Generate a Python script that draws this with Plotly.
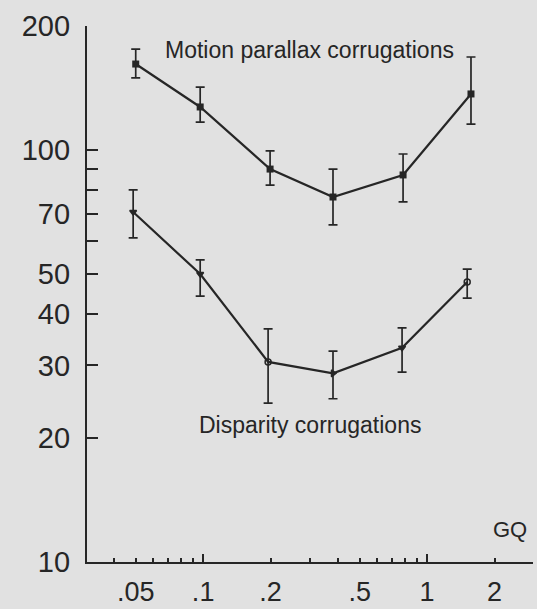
import plotly.graph_objects as go
import numpy as np

# Spatial frequency (GQ) of the corrugations
motion_x = [0.050, 0.097, 0.199, 0.380, 0.781, 1.57]
disp_x = [0.0487, 0.097, 0.195, 0.380, 0.773, 1.51]

# Thresholds (mean, upper and lower end of the error bar)
motion_y = [161.7, 127.2, 89.9, 76.9, 87.0, 136.8]
motion_hi = [175.8, 142.2, 99.5, 89.9, 97.8, 168.2]
motion_lo = [149.6, 116.9, 82.2, 65.8, 74.8, 115.6]

disp_y = [70.7, 50.0, 30.6, 28.7, 33.1, 47.8]
disp_hi = [80.0, 54.1, 36.8, 32.5, 37.0, 51.4]
disp_lo = [61.2, 44.2, 24.3, 24.9, 28.9, 43.7]

# Axis ticks
x_tick_vals = [0.05, 0.1, 0.2, 0.5, 1, 2]
x_tick_text = [".05", ".1", ".2", ".5", "1", "2"]
x_minor_vals = [0.04, 0.06, 0.07, 0.08, 0.09, 0.3, 0.4, 0.6, 0.7, 0.8, 0.9]
x_long_vals = [0.1, 1]
y_tick_vals = [10, 20, 30, 40, 50, 60, 70, 80, 90, 100, 200]
y_tick_text = ["10", "20", "30", "40", "50", "", "70", "", "", "100", "200"]

INK = "#262626"
BG = "#e1e1e1"
FONT = "Liberation Sans, Arial, Helvetica, sans-serif"


def err(y, hi, lo):
    y = np.array(y)
    return dict(type="data", symmetric=False,
                array=list(np.array(hi) - y), arrayminus=list(y - np.array(lo)),
                color=INK, thickness=1.7, width=4.5)


fig = go.Figure()
fig.add_trace(go.Scatter(
    x=motion_x, y=motion_y, mode="lines+markers",
    line=dict(color=INK, width=2.2),
    marker=dict(symbol="square", size=7, color=INK),
    error_y=err(motion_y, motion_hi, motion_lo),
    showlegend=False))
fig.add_trace(go.Scatter(
    x=disp_x, y=disp_y, mode="lines+markers",
    line=dict(color=INK, width=2.2),
    marker=dict(symbol=["triangle-down", "triangle-down", "circle-open",
                        "triangle-right", "triangle-down", "circle-open"],
                size=6, color=INK, line=dict(color=INK, width=1.5)),
    error_y=err(disp_y, disp_hi, disp_lo),
    showlegend=False))
# carrier trace for the overlaid axis with the longer decade ticks
fig.add_trace(go.Scatter(x=[], y=[], xaxis="x2", showlegend=False))

x_range = [np.log10(0.0303), np.log10(2.97)]

fig.update_layout(
    width=537, height=609,
    margin=dict(l=87, r=4, t=26, b=47, autoexpand=False),
    paper_bgcolor=BG, plot_bgcolor=BG,
    font=dict(family=FONT, color=INK),
    xaxis=dict(type="log", range=x_range, showgrid=False, zeroline=False,
               automargin=False,
               showline=True, linecolor=INK, linewidth=2.2,
               ticks="inside", ticklen=4, tickwidth=1.6, tickcolor=INK,
               tickvals=x_tick_vals, ticktext=x_tick_text,
               tickfont=dict(size=27, color=INK), ticklabelstandoff=4,
               minor=dict(tickvals=x_minor_vals, ticks="inside", ticklen=4,
                          tickwidth=1.6, tickcolor=INK, showgrid=False)),
    xaxis2=dict(type="log", range=x_range, overlaying="x", anchor="y",
                side="bottom", showgrid=False, zeroline=False, showline=False,
                automargin=False,
                ticks="inside", ticklen=8, tickwidth=1.6, tickcolor=INK,
                tickvals=x_long_vals, showticklabels=False),
    yaxis=dict(type="log", range=[1, np.log10(200)], showgrid=False,
               zeroline=False, showline=True, linecolor=INK, linewidth=2.2,
               automargin=False,
               ticks="inside", ticklen=11, tickwidth=1.6, tickcolor=INK,
               tickvals=y_tick_vals, ticktext=y_tick_text,
               tickfont=dict(size=29, color=INK), ticklabelstandoff=9),
)

fig.add_annotation(x=-0.527, y=2.2427, xref="x", yref="y",
                   text="Motion parallax corrugations", showarrow=False,
                   font=dict(size=23, color=INK, family=FONT))
fig.add_annotation(x=-0.522, y=1.3325, xref="x", yref="y",
                   text="Disparity corrugations", showarrow=False,
                   font=dict(size=23, color=INK, family=FONT))
fig.add_annotation(x=0.3705, y=1.0777, xref="x", yref="y",
                   text="GQ", showarrow=False,
                   font=dict(size=22, color=INK, family=FONT))

fig.write_html("out.html")
